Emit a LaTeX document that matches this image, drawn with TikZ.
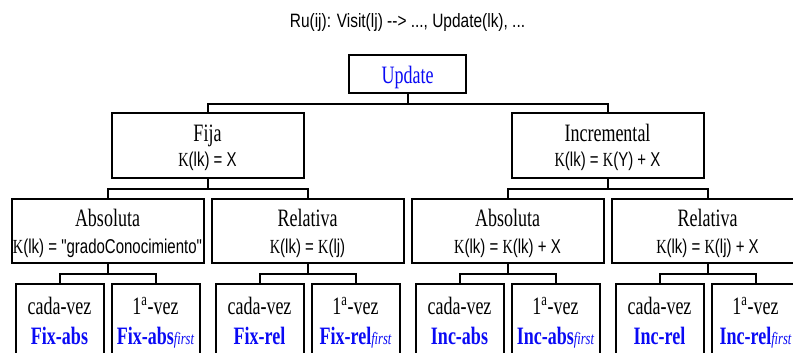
\documentclass[tikz,border=0pt]{standalone}
\usepackage{fontspec}
\setmainfont{Liberation Serif}[FakeStretch=0.72]
\newfontfamily\narrowsans{Liberation Sans}[FakeStretch=0.75,Ligatures=TeXOff]
\newfontfamily\titlesans{Liberation Sans}[FakeStretch=0.8,Ligatures=TeXOff]
\usepackage{tikz}
\usepackage{xcolor}
\definecolor{ink}{HTML}{000000}
\definecolor{keyblue}{HTML}{0A0AF5}
\newcommand{\formula}{\narrowsans\fontsize{15}{15}\selectfont}
\newcommand{\firstsub}[1]{{\fontsize{13}{13}\selectfont\itshape #1}}
\newcommand{\upstrut}[1]{\rule{0pt}{#1}}
\newcommand{\downstrut}[1]{\rule[-#1]{0pt}{#1}}
\tikzset{
  rootbox/.style={draw=ink,line width=1.5pt,inner sep=0pt,
                  minimum width=87.75pt,minimum height=28.5pt,
                  text height=18pt,text depth=4pt,
                  text=keyblue,font=\fontsize{18.75}{18.75}\selectfont},
  kindbox/.style={draw=ink,line width=1.5pt,inner sep=0pt,
                  minimum width=144pt,minimum height=48.75pt,align=center,
                  font=\fontsize{18.75}{18.75}\selectfont},
  modebox/.style={draw=ink,line width=1.5pt,inner sep=0pt,
                  minimum width=144pt,minimum height=48pt,align=center,
                  font=\fontsize{18.75}{19.9}\selectfont},
  leafbox/.style={draw=ink,line width=1.5pt,inner sep=0pt,anchor=north,
                  minimum width=66pt,minimum height=57pt,align=center,
                  font=\fontsize{18.75}{22.5}\selectfont},
  treeline/.style={draw=ink,line width=1.5pt}
}
\newcommand{\leafname}[1]{\textcolor{keyblue}{\bfseries #1}}
\newcommand{\kindtext}[2]{\upstrut{15.75pt}#1\\{\formula #2}\downstrut{3pt}}
\newcommand{\modetext}[2]{\upstrut{16.5pt}#1\\{\formula #2}\downstrut{3pt}}
\newcommand{\leaftext}[2]{\upstrut{15pt}#1\\#2\downstrut{4.5pt}}

\begin{document}
\begin{tikzpicture}[x=0.75pt,y=-0.75pt]
  \useasboundingbox (0,0) rectangle (793,353);
  \fill[white] (0,0) rectangle (793,353);
  \clip (0,0) rectangle (793,353);

  % Rule heading
  \node[anchor=base,inner sep=0pt,font=\titlesans\fontsize{14.5}{14.5}\selectfont]
    (rule) at (407.5,28) {Ru(ij): Visit(lj) --> ..., Update(lk), ...};

  % Root
  \node[rootbox] (upd) at (407.5,74) {Update};

  % Second level
  \node[kindbox] (fija) at (207.5,145.5) {\kindtext{Fija}{\textrm{K}(lk) = X}};
  \node[kindbox] (incr) at (607.5,145.5) {\kindtext{Incremental}{\textrm{K}(lk) = \textrm{K}(Y) + X}};

  % Third level
  \node[modebox] (fabs) at (107.5,231) {\modetext{Absoluta}{\textrm{K}(lk) = "gradoConocimiento"}};
  \node[modebox] (frel) at (307.5,231) {\modetext{Relativa}{\textrm{K}(lk) = \textrm{K}(lj)}};
  \node[modebox] (iabs) at (507.5,231) {\modetext{Absoluta}{\textrm{K}(lk) = \textrm{K}(lk) + X}};
  \node[modebox] (irel) at (707.5,231) {\modetext{Relativa}{\textrm{K}(lk) = \textrm{K}(lj) + X}};

  % Leaves (bottom edge runs off the page)
  \node[leafbox] (fa1) at (59.5,283)  {\leaftext{cada-vez}{\leafname{Fix-abs}}};
  \node[leafbox] (fa2) at (155.5,283) {\leaftext{1\textsuperscript{a}-vez}{\leafname{Fix-abs}\textcolor{keyblue}{\firstsub{first}}}};
  \node[leafbox] (fr1) at (259.5,283) {\leaftext{cada-vez}{\leafname{Fix-rel}}};
  \node[leafbox] (fr2) at (355.5,283) {\leaftext{1\textsuperscript{a}-vez}{\leafname{Fix-rel}\textcolor{keyblue}{\firstsub{first}}}};
  \node[leafbox] (ia1) at (459.5,283) {\leaftext{cada-vez}{\leafname{Inc-abs}}};
  \node[leafbox] (ia2) at (555.5,283) {\leaftext{1\textsuperscript{a}-vez}{\leafname{Inc-abs}\textcolor{keyblue}{\firstsub{first}}}};
  \node[leafbox] (ir1) at (659.5,283) {\leaftext{cada-vez}{\leafname{Inc-rel}}};
  \node[leafbox] (ir2) at (755.5,283) {\leaftext{1\textsuperscript{a}-vez}{\leafname{Inc-rel}\textcolor{keyblue}{\firstsub{first}}}};

  % Elbow connectors
  \draw[treeline] (upd.south) -- ++(0,10) -| (fija.north);
  \draw[treeline] (upd.south) -- ++(0,10) -| (incr.north);
  \draw[treeline] (fija.south) -- ++(0,10) -| (fabs.north);
  \draw[treeline] (fija.south) -- ++(0,10) -| (frel.north);
  \draw[treeline] (incr.south) -- ++(0,10) -| (iabs.north);
  \draw[treeline] (incr.south) -- ++(0,10) -| (irel.north);
  \draw[treeline] (fabs.south) -- ++(0,10) -| (fa1.north);
  \draw[treeline] (fabs.south) -- ++(0,10) -| (fa2.north);
  \draw[treeline] (frel.south) -- ++(0,10) -| (fr1.north);
  \draw[treeline] (frel.south) -- ++(0,10) -| (fr2.north);
  \draw[treeline] (iabs.south) -- ++(0,10) -| (ia1.north);
  \draw[treeline] (iabs.south) -- ++(0,10) -| (ia2.north);
  \draw[treeline] (irel.south) -- ++(0,10) -| (ir1.north);
  \draw[treeline] (irel.south) -- ++(0,10) -| (ir2.north);
\end{tikzpicture}
\end{document}
